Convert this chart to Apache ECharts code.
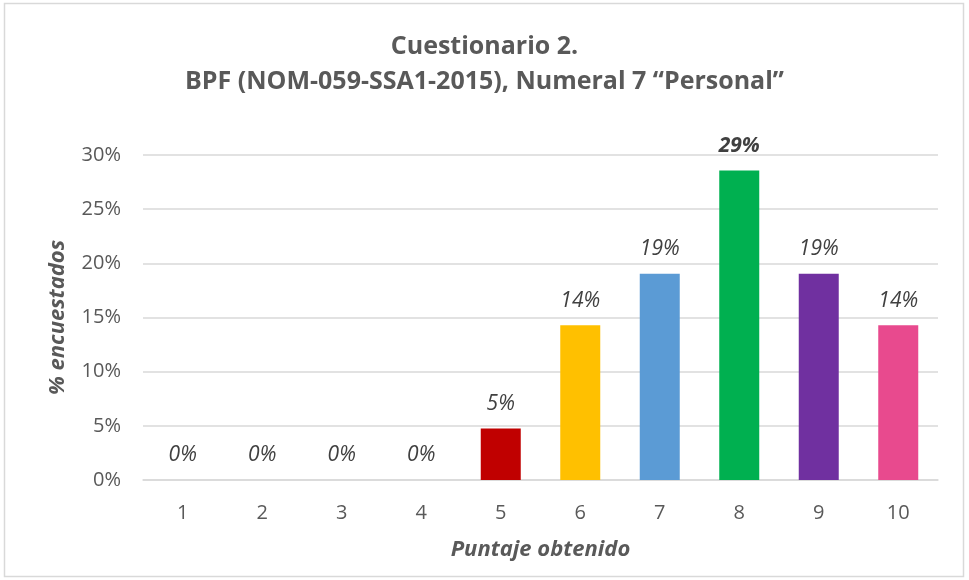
<!DOCTYPE html>
<html>
<head>
<meta charset="utf-8">
<script src="https://cdn.jsdelivr.net/npm/echarts@6/dist/echarts.min.js"></script>
<style>
html, body { margin: 0; padding: 0; background: #fff; }
#chart { width: 969px; height: 580px; }
</style>
</head>
<body>
<div id="chart"></div>
<script>
// datos
var categorias = ['1', '2', '3', '4', '5', '6', '7', '8', '9', '10'];
var porcentajes = [0, 0, 0, 0, 0.0476, 0.1429, 0.1905, 0.2857, 0.1905, 0.1429];
var colores = ['#A5A5A5', '#A5A5A5', '#A5A5A5', '#A5A5A5', '#C00000', '#FFC000', '#5B9BD5', '#00B050', '#7030A0', '#E84A8E'];
var ticksY = [0, 0.05, 0.1, 0.15, 0.2, 0.25, 0.3];

var fuente = 'Open Sans';
var chart = echarts.init(document.getElementById('chart'));

var datos = porcentajes.map(function (v, i) {
    var item = { value: v, itemStyle: { color: colores[i] } };
    if (i === 7) {
        item.label = { fontWeight: 'bold' };
    }
    return item;
});

option = {
    animation: false,
    textStyle: { fontFamily: fuente },
    title: {
        text: 'Cuestionario 2.\nBPF (NOM-059-SSA1-2015), Numeral 7 \u201cPersonal\u201d',
        left: 'center',
        top: 24,
        textStyle: {
            fontFamily: fuente,
            fontSize: 25,
            fontWeight: 'bold',
            color: '#595959',
            lineHeight: 35
        }
    },
    graphic: [{
        type: 'rect',
        shape: { x: 4.5, y: 3.5, width: 959, height: 573 },
        style: { fill: 'none', stroke: '#d9d9d9', lineWidth: 1.5 },
        silent: true
    }],
    grid: {
        left: 143,
        right: 31,
        top: 155,
        bottom: 100
    },
    xAxis: {
        type: 'category',
        data: categorias,
        name: 'Puntaje obtenido',
        nameLocation: 'middle',
        nameGap: 59,
        nameTextStyle: {
            fontFamily: fuente,
            fontSize: 22,
            fontWeight: 'bold',
            fontStyle: 'italic',
            color: '#595959'
        },
        axisLine: { lineStyle: { color: '#d9d9d9', width: 1.5 } },
        axisTick: { show: false },
        axisLabel: {
            fontSize: 20,
            color: '#595959',
            margin: 23
        }
    },
    yAxis: {
        type: 'value',
        min: 0,
        max: 0.3,
        interval: 0.05,
        name: '% encuestados',
        nameLocation: 'middle',
        nameGap: 74,
        nameRotate: 90,
        nameTextStyle: {
            fontFamily: fuente,
            fontSize: 22,
            fontWeight: 'bold',
            fontStyle: 'italic',
            color: '#595959'
        },
        axisLine: { show: false },
        axisTick: { show: false },
        splitLine: { lineStyle: { color: '#d9d9d9', width: 1.5 } },
        axisLabel: {
            fontSize: 20,
            color: '#595959',
            margin: 22,
            formatter: function (v) {
                return Math.round(v * 100) + '%';
            }
        }
    },
    series: [{
        type: 'bar',
        barWidth: 40,
        data: datos,
        label: {
            show: true,
            position: 'top',
            distance: 14,
            fontSize: 21,
            fontStyle: 'italic',
            color: '#404040',
            formatter: function (p) {
                return Math.round(p.value * 100) + '%';
            }
        }
    }]
};

chart.setOption(option);
</script>
</body>
</html>
